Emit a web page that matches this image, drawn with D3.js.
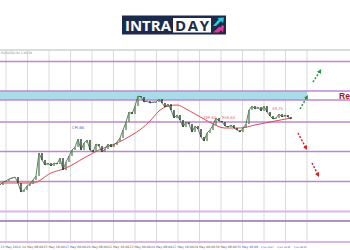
<!DOCTYPE html>
<html>
<head>
<meta charset="utf-8">
<script src="https://cdn.jsdelivr.net/npm/d3@7"></script>
<style>
   body { margin: 0; background: #fff; }
   svg { display: block; font-family: 'DejaVu Sans', sans-serif; }
</style>
</head>
<body>
<script>
// H4 closes, one per bar
const closes = [
   1.0694, 1.0700, 1.0702, 1.0706, 1.0708, 1.0710, 1.0698, 1.0680, 1.0684, 1.0692,
   1.0696, 1.0704, 1.0712, 1.0758, 1.0744, 1.0734, 1.0738, 1.0732, 1.0738, 1.0736,
   1.0748, 1.0724, 1.0740, 1.0752, 1.0764, 1.0770, 1.0786, 1.0764, 1.0778, 1.0784,
   1.0764, 1.0760, 1.0776, 1.0772, 1.0760, 1.0766, 1.0776, 1.0770, 1.0774, 1.0780,
   1.0788, 1.0804, 1.0820, 1.0840, 1.0836, 1.0852, 1.0872, 1.0870, 1.0860, 1.0862,
   1.0858, 1.0860, 1.0860, 1.0866, 1.0858, 1.0850, 1.0856, 1.0844, 1.0828, 1.0834,
   1.0824, 1.0810, 1.0820, 1.0816, 1.0800, 1.0812, 1.0806, 1.0790, 1.0782, 1.0798,
   1.0804, 1.0814, 1.0828, 1.0822, 1.0820, 1.0812, 1.0810, 1.0814, 1.0808, 1.0804,
   1.0800, 1.0808, 1.0816, 1.0844, 1.0852, 1.0846, 1.0850, 1.0842, 1.0852, 1.0840,
   1.0832, 1.0826, 1.0828, 1.0836, 1.0830, 1.0834, 1.0830, 1.0826
];

// moving average, read at a few bars
const maBars = [0, 6, 11, 17, 22, 28, 33, 39, 44, 47, 50, 53, 56, 59, 62, 65, 68, 71, 75, 80, 85, 90, 97];
const maValues = [1.0698, 1.0698, 1.0698, 1.0718, 1.0728, 1.0748, 1.0764, 1.0778, 1.0794, 1.0806, 1.0822,
   1.0842, 1.0852, 1.0854, 1.0846, 1.0836, 1.0826, 1.0816, 1.0808, 1.0808, 1.0814, 1.0820, 1.0828];

// horizontal levels and resistance zone
const levels = [1.0941, 1.0882, 1.0864, 1.0820, 1.0761, 1.0701, 1.0641, 1.0622, 1.0580];
const zone = [1.0864, 1.0882];
const zoneLabel = 'Resistance';

// small texts on the chart
const notes = ['CPI,BK', 'ZEP,60', 'PSE,60', '49,75'];
const noteBars = [24, 67.7, 74, 90.7];
const notePrices = [1.0806, 1.0826, 1.0826, 1.0844];

// scenario arrows [bar0, price0, bar1, price1]
const upArrows = [[100, 1.0846, 102.3, 1.0870], [104.3, 1.0900, 106.7, 1.0922]];
const downArrows = [[99.3, 1.0798, 102, 1.0768], [104, 1.0738, 106, 1.0714]];

const tickLabels = [
   '13 May 2024', '14 May 08:00', '15 May 16:00', '17 May 00:00', '20 May 08:00', '21 May 16:00',
   '23 May 00:00', '24 May 08:00', '27 May 16:00', '29 May 00:00', '30 May 08:00', '31 May 16:00'
];
const futureLabels = ['2 Jun 2024', '3 Jun 16:00', '4 Jun 08:00'];
const futureBars = [87, 92.4, 97.8];

const w = 350;
const h = 250;

const svg = d3.select('body')
   .append('svg')
   .attr('width', w)
   .attr('height', h);

const xScale = d3.scaleLinear()
   .domain([0, w / 3])
   .range([0, w]);

const yScale = d3.scaleLinear()
   .domain([1.0580, 1.0964])
   .range([242, 50]);

// one grid line per day
const gridBars = d3.range(15).map((k) => 2 + k * 43 / 6);
const zoneEnd = gridBars[gridBars.length - 1];

// ---- logo
const logo = svg.append('g');
logo.append('rect')
   .attr('x', 122).attr('y', 15.5)
   .attr('width', 104).attr('height', 19)
   .attr('fill', '#1c2b4b');
logo.append('text')
   .attr('x', 125).attr('y', 31)
   .attr('font-family', 'Open Sans, sans-serif')
   .attr('font-weight', 700)
   .attr('font-size', 15)
   .attr('textLength', 46)
   .attr('fill', '#fff')
   .text('INTRA');
logo.append('rect')
   .attr('x', 173).attr('y', 18)
   .attr('width', 38).attr('height', 14.5)
   .attr('fill', '#fff');
logo.append('text')
   .attr('x', 175).attr('y', 31)
   .attr('font-family', 'Open Sans, sans-serif')
   .attr('font-weight', 700)
   .attr('font-size', 15)
   .attr('textLength', 34)
   .attr('fill', '#1c2b4b')
   .text('DAY');
logo.append('polygon')
   .attr('points', '213,26 219,19 217,18 224,17.5 223,23 221,21 216,26')
   .attr('fill', '#2ec9de');
logo.append('polygon')
   .attr('points', '213,32.5 219,27 221,27 222,25 224,26 223,32.5 221,30 219,32.5')
   .attr('fill', '#e4339b');

// ---- frame and grid
svg.append('line')
   .attr('x1', 0).attr('x2', w)
   .attr('y1', 50).attr('y2', 50)
   .attr('stroke', '#b8b8b8');

svg.append('text')
   .attr('x', 1).attr('y', 53.5)
   .attr('font-size', 3.2)
   .attr('fill', '#888')
   .text('EURUSD,H4 1.0830');

svg.selectAll('.grid')
   .data(gridBars)
   .enter()
   .append('line')
   .attr('class', 'grid')
   .attr('x1', (d) => xScale(d))
   .attr('x2', (d) => xScale(d))
   .attr('y1', 50)
   .attr('y2', 244)
   .attr('stroke', '#d0d0d0')
   .attr('stroke-width', 0.8);

// resistance zone
svg.append('rect')
   .attr('x', 0)
   .attr('y', yScale(zone[1]))
   .attr('width', xScale(zoneEnd))
   .attr('height', yScale(zone[0]) - yScale(zone[1]))
   .attr('fill', '#a9dce9');

svg.append('text')
   .attr('x', 339)
   .attr('y', (yScale(zone[0]) + yScale(zone[1])) / 2 + 3)
   .attr('font-family', 'Liberation Sans, sans-serif')
   .attr('font-weight', 700)
   .attr('font-size', 8.5)
   .attr('fill', '#9e1b1b')
   .text(zoneLabel);

svg.selectAll('.level')
   .data(levels)
   .enter()
   .append('line')
   .attr('class', 'level')
   .attr('x1', 0).attr('x2', w)
   .attr('y1', (d) => yScale(d))
   .attr('y2', (d) => yScale(d))
   .attr('stroke', (d, i) => (i === 6 || i === 8) ? '#dcb8e6' : (i === 7 ? '#9a6ab4' : '#bb88d2'))
   .attr('stroke-width', (d, i) => (i === 6 || i === 8) ? 1.8 : 1.3);

// ---- moving average
const maLine = d3.line()
   .x((d, i) => xScale(maBars[i]))
   .y((d) => yScale(d))
   .curve(d3.curveMonotoneX);

svg.append('path')
   .datum(maValues)
   .attr('d', maLine)
   .attr('fill', 'none')
   .attr('stroke', '#dc4a57')
   .attr('stroke-width', 1);

// ---- price
const priceLine = d3.line()
   .x((d, i) => xScale(i))
   .y((d) => yScale(d));

svg.append('path')
   .datum(closes)
   .attr('d', priceLine)
   .attr('fill', 'none')
   .attr('stroke', '#3f5d3f')
   .attr('stroke-width', 0.8);

svg.selectAll('.candle')
   .data(closes.slice(1))
   .enter()
   .append('rect')
   .attr('class', 'candle')
   .attr('x', (d, i) => xScale(i + 1) - 0.7)
   .attr('y', (d, i) => yScale(Math.max(d, closes[i])))
   .attr('width', 1.4)
   .attr('height', (d, i) => Math.max(0.8, Math.abs(yScale(d) - yScale(closes[i]))))
   .attr('fill', (d, i) => d >= closes[i] ? '#5d8a5d' : '#2a3a2a');

// ---- notes
svg.selectAll('.note')
   .data(notes)
   .enter()
   .append('text')
   .attr('class', 'note')
   .attr('x', (d, i) => xScale(noteBars[i]))
   .attr('y', (d, i) => yScale(notePrices[i]))
   .attr('font-size', 3.8)
   .attr('fill', (d, i) => i === 0 ? '#4a5fc4' : '#e06070')
   .text((d) => d);

// ---- arrows
const defs = svg.append('defs');
[['up', '#1f9a3c'], ['down', '#d62222']].forEach(([id, c]) => {
   defs.append('marker')
      .attr('id', 'head-' + id)
      .attr('viewBox', '0 0 10 10')
      .attr('refX', 5).attr('refY', 5)
      .attr('markerWidth', 3).attr('markerHeight', 3)
      .attr('orient', 'auto')
      .append('path')
      .attr('d', 'M0,0 L10,5 L0,10 z')
      .attr('fill', c);
});

svg.selectAll('.up')
   .data(upArrows)
   .enter()
   .append('line')
   .attr('x1', (d) => xScale(d[0])).attr('y1', (d) => yScale(d[1]))
   .attr('x2', (d) => xScale(d[2])).attr('y2', (d) => yScale(d[3]))
   .attr('stroke', '#1f9a3c')
   .attr('stroke-width', 1.5)
   .attr('stroke-dasharray', '2,1.6')
   .attr('marker-end', 'url(#head-up)');

svg.selectAll('.down')
   .data(downArrows)
   .enter()
   .append('line')
   .attr('x1', (d) => xScale(d[0])).attr('y1', (d) => yScale(d[1]))
   .attr('x2', (d) => xScale(d[2])).attr('y2', (d) => yScale(d[3]))
   .attr('stroke', '#d62222')
   .attr('stroke-width', 1.5)
   .attr('stroke-dasharray', '2,1.6')
   .attr('marker-end', 'url(#head-down)');

// ---- time labels, one per day line
svg.selectAll('.tick')
   .data(tickLabels)
   .enter()
   .append('text')
   .attr('x', (d, i) => xScale(i * 43 / 6) + 0.5)
   .attr('y', 247.5)
   .attr('font-size', 3.1)
   .attr('fill', '#555')
   .text((d) => d);

svg.selectAll('.ftick')
   .data(futureLabels)
   .enter()
   .append('text')
   .attr('x', (d, i) => xScale(futureBars[i]))
   .attr('y', 247.5)
   .attr('font-size', 2.3)
   .attr('fill', '#555')
   .text((d) => d);
</script>
</body>
</html>
